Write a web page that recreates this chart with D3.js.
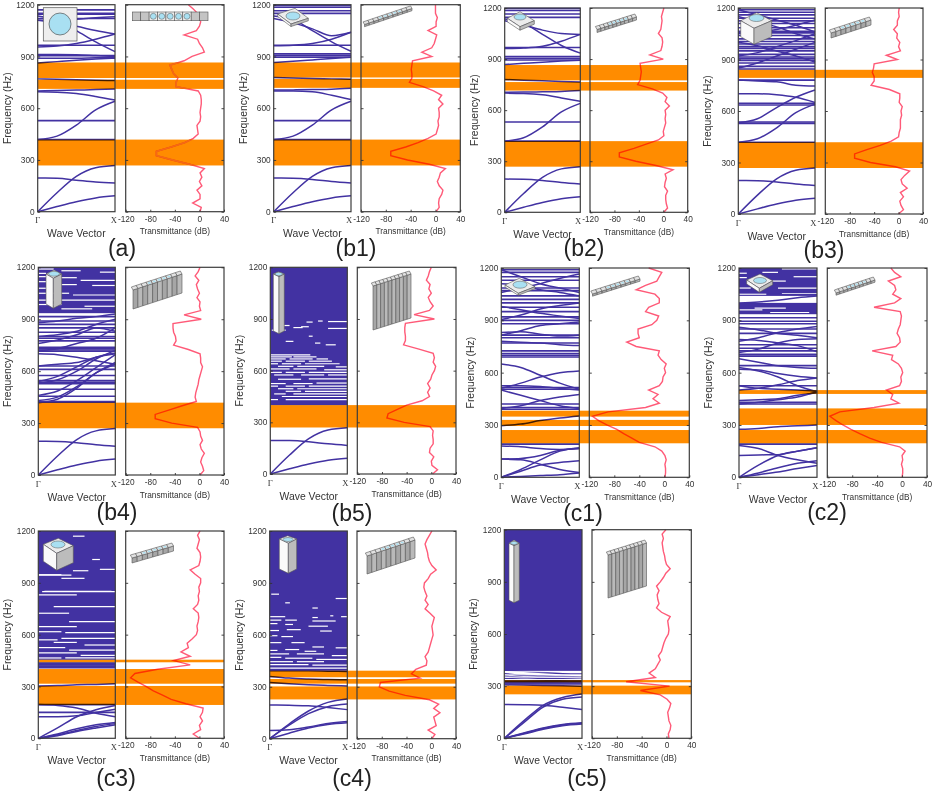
<!DOCTYPE html>
<html><head><meta charset="utf-8">
<script src="https://cdn.jsdelivr.net/npm/d3@7"></script>
<style>
html,body{margin:0;padding:0;background:#fff}
svg{display:block;font-family:"Liberation Sans",Arial,sans-serif;filter:blur(.3px)}
.frame{fill:none;stroke:#3c3c3c;stroke-width:1.2}
.tick text{fill:#333;font-size:8.3px;font-family:"Liberation Sans",Arial,sans-serif}
.tick line{stroke:#333;stroke-width:.9}
.domain{display:none}
</style></head><body>
<script>
// ---------- shared axes values ----------
const waveK = [0, .25, .5, .75, 1];
const freqGrid = [0,25,50,75,100,125,150,175,200,225,250,275,300,325,350,375,400,425,450,475,500,525,550,575,600,625,650,675,700,725,750,775,800,825,850,875,900,925,950,975,1000,1025,1050,1075,1100,1125,1150,1175,1200];
const freqTicks = [0,300,600,900,1200];
const transTicks = [-120,-80,-40,0,40];
const waveTickLabels = ["\u0393","X"];
const freqTitle = "Frequency (Hz)", waveTitle = "Wave Vector", transTitle = "Transmittance (dB)";

// ---------- (a) ----------
const a_bands = [[268,418],[712,765],[775,865]];
const a_curves = [[0,30,58,80,92],[0,110,205,255,268],[195,194,183,172,166],[418,438,502,590,640],[695,693,685,668,647],[700,702,705,708,712],[770,768,765,762,760],[862,870,878,885,890],[890,890,890,893,895],[912,912,910,905,900],[955,960,975,1000,1030],[1135,1110,1050,985,928],[1110,1095,1075,1050,1030],[1110,1110,1115,1125,1130]];
const a_flats = [418,528,905,965,1120,1145,1150,1170];
const a_trans = [1,3,-11,1,1,-4,4,0,4,1,8,-16,-44,-70,-70,-46,-24,-10,-2,-3,-4,1,2,1,2,3,3,2,-2,-38,-38,-35,-42,-45,-48,-25,-12,8,5,0,-3,-25,-5,0,2,1,-3,-10,-18];
// ---------- (b1) ----------
const b1_bands = [[268,418],[718,770],[778,865]];
const b1_curves = [[0,30,58,80,92],[0,110,205,255,268],[195,194,187,175,166],[418,438,502,590,640],[700,700,695,675,650],[705,706,708,710,715],[778,775,772,770,768],[865,872,880,888,895],[962,965,975,1000,1040],[1135,1115,1050,985,930],[1120,1095,1060,1020,1040]];
const b1_flats = [418,528,895,905,915,965,1150,1165,1185,1195];
const b1_trans = [1,6,5,6,10,12,6,3,6,8,16,-10,-45,-72,-72,-48,-28,-12,1,3,5,4,6,6,5,12,5,10,-3,-20,-42,-38,-38,-39,-38,-37,-6,-22,-6,-2,0,2,-12,1,1,3,0,0,0];
// ---------- (b2) ----------
const b2_bands = [[268,418],[715,765],[775,865]];
const b2_curves = [[0,30,58,80,92],[0,110,205,255,268],[195,194,187,175,166],[418,438,502,590,640],[700,698,690,672,652],[705,706,708,710,715],[780,776,772,768,765],[868,875,882,888,893],[962,965,975,1005,1045],[1135,1110,1045,980,935],[1125,1100,1070,1050,1045]];
const b2_flats = [418,530,895,905,915,968,1145,1165,1185,1197];
const b2_trans = [1,7,5,4,4,7,2,3,5,3,16,-12,-45,-72,-72,-48,-28,-8,1,0,2,4,3,4,3,10,3,6,-1,-18,-42,-38,-37,-36,-37,-38,0,-22,-4,-2,-1,-2,-8,-4,-3,-2,-3,-1,1];
// ---------- (b3) ----------
const b3_bands = [[268,418],[793,840]];
const b3_curves = [[0,30,58,80,92],[0,110,205,255,268],[195,194,187,175,166],[418,438,502,590,640],[532,555,620,680,722],[700,700,695,680,650],[780,775,770,750,745],[850,880,920,960,1000],[1000,980,950,920,885],[1150,1120,1090,1050,1020],[1050,1060,1075,1100,1130],[1190,1160,1130,1100,1060],[920,940,975,1010,1050]];
const b3_flats = [418,528,536,635,645,780,845,860,880,895,905,915,930,950,965,975,990,1005,1020,1040,1055,1065,1085,1110,1125,1140,1160,1175,1190];
const b3_trans = [0,8,4,2,8,3,14,6,4,10,18,-5,-46,-72,-72,-52,-30,-12,0,1,3,3,3,5,4,6,1,2,2,-15,-45,-40,-40,-43,-41,-40,-2,-20,3,0,2,-3,-2,-8,-2,-2,1,0,1];
// ---------- (b4) ----------
const b4_bands = [[270,418]];
const b4_curves = [[0,30,58,80,92],[0,110,205,255,268],[195,194,187,175,166],[418,438,502,590,640],[430,450,510,590,650],[460,485,545,620,695],[530,550,600,670,720],[540,570,625,680,705],[630,640,650,680,700],[700,695,680,660,640],[720,730,760,790,850],[760,780,810,850,830],[800,810,830,870,900],[880,890,905,915,930]];
const b4_flats = [420,425,455,495,528,535,545,575,610,630,715,722,730,738,775,790,800,825,850,870,890,915];
const b4_dense = [[935,1200]];
const b4_slivers = [[0,.1,1165],[0,.12,1146],[.8,1,1172],[0,.1,1117],[.55,1,1125],[.7,1,1095],[0,.1,1079],[0,.4,1050],[.45,1,1040],[0,1,1010],[0,.3,985],[.6,1,975],[.3,.7,960],[0,.2,1190],[.3,.5,1100],[.3,.55,1180],[.25,.5,1140]];
const b4_trans = [1,7,5,2,4,8,3,1,5,2,1,-3,-45,-72,-72,-50,-28,-5,-7,-6,-4,-2,-1,1,3,5,2,2,1,-18,-42,-38,-39,-42,-43,-43,3,-25,2,0,1,-4,0,-3,-5,-1,-7,-2,1];
// ---------- (b5) ----------
const b5_bands = [[270,400]];
const b5_curves = [[0,30,58,80,92],[0,110,205,255,268],[195,194,187,175,166]];
const b5_flats = [];
const b5_dense = [[400,1200]];
const b5_slivers = [[.47,.55,882],[.75,1,885],[.62,.68,888],[.12,.25,862],[.3,.42,850],[.75,1,845],[.02,.2,835],[.4,.5,855],[.5,.55,800],[.58,.65,760],[.72,.85,750],[.2,.3,770],[0,.52,692],[0,.28,680],[.3,.6,680],[0,.2,668],[.25,.55,668],[.6,.75,668],[0,.15,655],[.2,.45,655],[.5,.8,655],[0,.1,640],[.15,.4,640],[.45,.9,640],[.1,.3,625],[.35,.7,625],[.85,1,622],[0,.25,610],[.3,.6,610],[.7,1,605],[0,.15,590],[.2,.45,590],[.5,1,590],[.05,.3,575],[.4,.7,575],[.75,1,575],[.1,.4,550],[.5,1,552],[0,.2,525],[.3,.55,525],[.6,1,528],[0,.1,510],[.2,.45,510],[.5,1,510],[.1,.3,495],[.35,1,495],[.2,.4,480],[.45,1,480],[.05,.2,465],[.3,1,465],[.15,1,450],[0,.1,432],[.2,1,432]];
const b5_trans = [2,10,1,0,4,-3,-2,3,3,2,3,-2,-44,-72,-70,-55,-40,-15,-3,-6,-2,-6,-1,1,5,7,3,5,3,-20,-45,-42,-42,-43,-43,-42,5,-28,-3,3,-2,-5,0,-4,-2,-8,-5,-3,0];
// ---------- (c1) ----------
const c1_bands = [[195,271],[294,329],[348,382]];
const c1_curves = [[0,35,70,85,95],[0,45,100,150,170],[0,5,10,15,25],[105,100,75,45,27],[105,108,125,155,165],[180,175,165,160,165],[296,305,325,340,352],[500,470,440,410,395],[395,410,440,460,475],[525,525,520,510,500],[650,630,585,540,505],[510,540,575,600,610],[780,775,770,760,755],[815,840,870,880,890],[830,835,820,810,815],[980,960,940,925,910],[905,930,965,985,1000],[1190,1150,1110,1085,1060],[1060,1085,1110,1140,1165],[1110,1100,1075,1060,1040]];
const c1_flats = [190,390,400,420,505,515,690,700,710,725,770,800,815,880,900,920,950,975,1000,1020,1040,1070,1085,1130,1150,1175,1190];
const c1_trans = [1,2,2,1,3,1,-4,-15,-40,-52,-65,-76,-92,-105,-115,-90,-30,-8,-18,-10,-25,-8,-3,-2,2,0,3,-5,-10,-8,-45,-60,-40,-42,-42,-20,-12,-9,-30,-25,-8,-8,-15,-45,-30,-12,-8,-4,-25];
// ---------- (c2) ----------
const c2_bands = [[195,271],[300,395],[478,500]];
const c2_curves = [[0,25,55,80,95],[0,15,30,50,68],[182,165,125,100,80],[0,70,125,150,170],[125,128,130,150,170],[275,280,290,295,300],[420,430,445,460,490],[440,445,450,470,485],[525,510,505,500,495],[630,610,575,525,490],[500,510,530,555,570],[620,615,595,580,570],[680,660,640,630,625],[715,735,770,790,795],[790,785,770,755,720],[860,845,825,815,800],[780,800,830,850,865],[1000,1005,1015,1030,1040]];
const c2_flats = [190,420,430,525,640,695,705,725,740,760,825,850,880,895,915,1060];
const c2_dense = [[935,1000],[1040,1200]];
const c2_slivers = [[0,.1,1170],[.3,.5,1175],[.55,1,1195],[0,.1,1145],[.7,1,1150],[.3,.6,1125],[0,.15,1085],[.5,1,1085],[0,.35,1050],[.55,1,1055],[.2,.6,970],[0,.3,960],[.4,.9,945]];
const c2_trans = [0,1,1,-1,1,0,5,-4,-33,-52,-68,-82,-95,-106,-116,-100,-45,-5,-18,-15,-25,-4,-1,-2,1,-1,-6,-17,-15,-48,-10,-3,-4,-8,-6,-3,-2,-1,-3,-45,-12,-2,-15,-10,-12,-22,-2,-12,-18];
// ---------- (c3) ----------
const c3_bands = [[193,303],[316,401],[440,455]];
const c3_curves = [[0,25,55,78,92],[0,20,45,68,85],[0,15,40,60,78],[0,60,125,165,190],[125,125,130,150,168],[195,190,175,145,125],[303,305,310,312,316]];
const c3_flats = [195,150,408,418,425,435];
const c3_dense = [[455,1200]];
const c3_slivers = [[.05,1,849],[.08,.95,851],[0,.5,830],[.2,1,762],[0,.43,945],[0,.3,947],[.8,1,978],[.45,.65,970],[.3,.6,926],[.7,.8,1035],[.45,.6,1170],[.3,.45,1100],[0,.4,724],[.4,1,675],[0,.5,646],[0,.3,617],[.35,1,612],[.3,1,579],[0,.25,570],[.2,.5,555],[.6,1,540],[0,.35,525],[.4,1,510],[0,.5,495],[.55,1,480],[0,.3,465],[.35,1,465]];
const c3_trans = [0,-10,2,0,5,1,5,6,-22,-46,-60,-75,-87,-100,-112,-105,-68,-15,-42,-15,-30,-18,-20,-12,-5,-3,-4,-2,-1,-2,-10,-3,-1,-2,0,-1,2,2,-7,-15,-1,1,2,1,-4,-2,0,-3,1];
// ---------- (c4) ----------
const c4_bands = [[227,302],[318,345],[355,393]];
const c4_curves = [[0,32,62,82,92],[48,52,68,88,100],[0,85,160,210,230],[0,78,145,185,200],[195,193,190,180,168],[393,392,392,390,388],[360,350,345,342,340],[325,318,312,308,305]];
const c4_flats = [];
const c4_dense = [[393,1200]];
const c4_slivers = [[.02,.12,835],[.85,1,810],[.2,.26,785],[.55,.62,755],[0,.2,705],[.55,.62,700],[.78,.82,710],[.92,1,705],[0,.15,685],[.2,.35,685],[.55,.85,680],[.0,.1,665],[.2,.3,660],[.5,.75,650],[.0,.12,625],[.22,.4,630],[.65,.8,622],[0,.1,595],[.15,.3,590],[.0,.15,555],[.28,.45,555],[.55,.7,530],[.85,1,525],[.0,.1,510],[.2,.38,515],[.45,.6,505],[0,.25,490],[.35,.7,490],[.8,1,480],[0,.15,470],[.2,.55,465],[.6,1,458],[0,.3,445],[.35,.7,445],[0,.5,428],[.55,1,425],[0,1,408]];
const c4_trans = [1,6,-5,8,6,4,14,4,12,-3,-42,-68,-84,-82,-18,-32,-25,-8,-7,-10,-5,-3,-1,1,3,2,1,3,5,-2,-10,-5,-10,-7,-10,-12,-11,-5,-1,8,1,-3,-5,-6,-8,-10,-7,-3,1];
// ---------- (c5) ----------
const c5_bands = [[253,303],[322,335]];
const c5_curves = [[0,30,60,80,90],[0,28,56,76,86],[0,24,52,72,82],[0,100,190,235,255],[0,90,180,225,238],[195,193,190,178,166],[308,306,304,302,300],[320,320,322,324,325],[330,330,330,330,330],[345,340,335,330,328]];
const c5_flats = [312,318,326];
const c5_dense = [[388,1200]];
const c5_slivers = [];
const c5_extraWhite = [[0,1,383],[0,1,365],[0,1,352],[0,1,338]];
const c5_trans = [4,3,6,7,4,3,2,5,7,1,-10,-42,5,-65,-18,-28,-18,-14,-10,-13,-8,-6,-4,-1,3,4,3,2,6,-8,-16,-12,-14,-15,-12,-16,-10,-5,-1,6,0,-2,-3,-5,-6,-7,-5,-7,-1];
const c5_lowLines = [[392,385,378,372,370],[372,362,358,355,352],[358,350,345,342,340]];

// ---------- panel table ----------
const panels = [
 {name:"(a)",  box:[37.7,115,125.7,224,4.7,211.7], tx:122,ty:256, bands:a_bands,curves:a_curves,flats:a_flats,trans:a_trans,plainBand:true},
 {name:"(b1)", box:[273.7,351,361,460.3,4.7,211.7], tx:356,ty:256, bands:b1_bands,curves:b1_curves,flats:b1_flats,trans:b1_trans},
 {name:"(b2)", box:[504.7,580.3,590,687.7,8,212.3], tx:584,ty:256, bands:b2_bands,curves:b2_curves,flats:b2_flats,trans:b2_trans},
 {name:"(b3)", box:[738.3,815,825.3,923,8,214], tx:824,ty:258, bands:b3_bands,curves:b3_curves,flats:b3_flats,trans:b3_trans},
 {name:"(b4)", box:[38.3,115.3,125.7,224,267.3,475], tx:117,ty:520, bands:b4_bands,curves:b4_curves,flats:b4_flats,trans:b4_trans,dense:b4_dense,slivers:b4_slivers},
 {name:"(b5)", box:[270.3,347.3,357.3,456,267.3,474], tx:352,ty:521, bands:b5_bands,curves:b5_curves,flats:b5_flats,trans:b5_trans,dense:b5_dense,slivers:b5_slivers},
 {name:"(c1)", box:[501.3,579.3,589.3,689.3,268,477.3], tx:583,ty:521, bands:c1_bands,curves:c1_curves,flats:c1_flats,trans:c1_trans},
 {name:"(c2)", box:[739,817,827.3,927,268,477.3], tx:827,ty:520, bands:c2_bands,curves:c2_curves,flats:c2_flats,trans:c2_trans,dense:c2_dense,slivers:c2_slivers},
 {name:"(c3)", box:[38.3,115.3,125.7,224,531,738.3], tx:116,ty:786, bands:c3_bands,curves:c3_curves,flats:c3_flats,trans:c3_trans,dense:c3_dense,slivers:c3_slivers},
 {name:"(c4)", box:[269.7,347.3,357,456,531,738.7], tx:352,ty:786, bands:c4_bands,curves:c4_curves,flats:c4_flats,trans:c4_trans,dense:c4_dense,slivers:c4_slivers},
 {name:"(c5)", box:[504.3,582,592,691.3,529.7,738.3], tx:587,ty:786, bands:c5_bands,curves:c5_curves.concat(c5_lowLines),flats:c5_flats,trans:c5_trans,dense:c5_dense,slivers:c5_slivers,thickSlivers:c5_extraWhite}
];

const indigo = "#4232a2", orange = "#ff8c00", pink = "#ff5a78";
const svg = d3.select("body").append("svg").attr("width",934).attr("height",791).attr("viewBox","0 0 934 791");

panels.forEach((p,pi) => {
  const [l0,l1,r0,r1,top,bot] = p.box;
  const g = svg.append("g");
  const fy = d3.scaleLinear().domain([0,1200]).range([bot,top]);
  const kx = d3.scaleLinear().domain([0,1]).range([l0,l1]);
  const tx = d3.scaleLinear().domain([-120,40]).range([r0,r1]);
  const modeLine = d3.line().x((d,i)=>kx(waveK[i])).y(d=>fy(d)).curve(d3.curveMonotoneX);

  (p.dense||[]).forEach(d => g.append("rect").attr("x",l0).attr("width",l1-l0)
     .attr("y",fy(d[1])).attr("height",fy(d[0])-fy(d[1])).attr("fill",indigo));
  (p.slivers||[]).forEach(s => g.append("line").attr("x1",kx(s[0])).attr("x2",kx(s[1]))
     .attr("y1",fy(s[2])).attr("y2",fy(s[2])).attr("stroke","#fff").attr("stroke-width",1.2));
  p.flats.forEach(f => g.append("path").attr("d",modeLine(waveK.map(()=>f))).attr("fill","none").attr("stroke",indigo).attr("stroke-width",1.6));
  p.curves.forEach(c => g.append("path").attr("d",modeLine(c)).attr("fill","none").attr("stroke",indigo).attr("stroke-width",1.5));
  (p.thickSlivers||[]).forEach(s => g.append("line").attr("x1",kx(s[0])).attr("x2",kx(s[1]))
     .attr("y1",fy(s[2])).attr("y2",fy(s[2])).attr("stroke","#fff").attr("stroke-width",1));

  const transLine = d3.line().x(d=>tx(d)).y((d,i)=>fy(freqGrid[i])).curve(d3.curveLinear);
  g.append("path").attr("d",transLine(p.trans)).attr("fill","none").attr("stroke",pink).attr("stroke-width",1.4);

  p.bands.forEach(b => g.append("rect").attr("x",l0).attr("width",r1-l0)
     .attr("y",fy(b[1])).attr("height",fy(b[0])-fy(b[1])).attr("fill",orange)
     .style("mix-blend-mode","multiply"));

  if(p.plainBand){
    const cid = "bandclip"+pi;
    const cp = g.append("clipPath").attr("id",cid);
    p.bands.forEach(b => cp.append("rect").attr("x",r0).attr("width",r1-r0).attr("y",fy(b[1])).attr("height",fy(b[0])-fy(b[1])));
    g.append("path").attr("clip-path",`url(#${cid})`).attr("d",transLine(p.trans)).attr("fill","none").attr("stroke","#f46a14").attr("stroke-width",1.8);
  }

  g.append("rect").attr("class","frame").attr("x",l0).attr("y",top).attr("width",l1-l0).attr("height",bot-top);
  g.append("rect").attr("class","frame").attr("x",r0).attr("y",top).attr("width",r1-r0).attr("height",bot-top);

  // axes
  g.append("g").attr("transform",`translate(${l0},0)`).call(d3.axisLeft(fy).tickValues(freqTicks).tickFormat(d=>String(d)).tickSizeInner(-2.5).tickSizeOuter(0).tickPadding(3));
  g.append("g").attr("transform",`translate(${r0},0)`).call(d3.axisLeft(fy).tickValues(freqTicks).tickFormat("").tickSizeInner(-2.5).tickSizeOuter(0));
  g.append("g").attr("transform",`translate(${r1},0)`).call(d3.axisRight(fy).tickValues(freqTicks).tickFormat("").tickSizeInner(-2.5).tickSizeOuter(0));
  g.append("g").attr("transform",`translate(0,${bot})`).call(d3.axisBottom(tx).tickValues(transTicks).tickFormat(d=>String(d)).tickSizeInner(-2).tickSizeOuter(0).tickPadding(4));
  // gamma / X
  g.append("text").attr("x",l0).attr("y",bot+11.5).attr("text-anchor","middle").attr("font-family","'Liberation Serif',serif").attr("font-size",8.6).attr("fill","#333").text(waveTickLabels[0]);
  g.append("text").attr("x",r0-8.8).attr("y",bot+11.5).attr("text-anchor","end").attr("font-family","'Liberation Serif',serif").attr("font-size",8.6).attr("fill","#333").text(waveTickLabels[1]);

  g.append("text").attr("transform",`translate(${l0-27},${(top+bot)/2}) rotate(-90)`).attr("text-anchor","middle").attr("font-size",10.4).attr("fill","#333").text(freqTitle);
  g.append("text").attr("x",(l0+l1)/2).attr("y",bot+25.5).attr("text-anchor","middle").attr("font-size",10.4).attr("fill","#333").text(waveTitle);
  g.append("text").attr("x",(r0+r1)/2).attr("y",bot+22.5).attr("text-anchor","middle").attr("font-size",8.3).attr("fill","#333").text(transTitle);
  g.append("text").attr("x",p.tx).attr("y",p.ty).attr("text-anchor","middle").attr("font-size",23).attr("fill","#222").text(p.name);
});

// ---------- inset schematics ----------
const cyan = "#a9e0f2", edge = "#555";
const ins = svg.append("g");
function poly(pts,fill){ ins.append("polygon").attr("points",pts.map(q=>q.join(",")).join(" ")).attr("fill",fill).attr("stroke",edge).attr("stroke-width",.6); }
function cell(L,T,R,B,d,cx,cy,rx,ry){
  poly([L,T,R,B],"#ececec");
  poly([L,B,[B[0],B[1]+d],[L[0],L[1]+d]],"#fafafa");
  poly([B,R,[R[0],R[1]+d],[B[0],B[1]+d]],"#bcbcbc");
  ins.append("ellipse").attr("cx",cx).attr("cy",cy).attr("rx",rx).attr("ry",ry).attr("fill",cyan).attr("stroke",edge).attr("stroke-width",.5);
}
function strip(p0,p1,d,h,n,holes){
  const sx=(p1[0]-p0[0])/n, sy=(p1[1]-p0[1])/n;
  for(let i=0;i<n;i++){
    const a=[p0[0]+i*sx,p0[1]+i*sy], b=[a[0]+sx,a[1]+sy];
    const shade = i%2 ? "#b9b9b9":"#a6a6a6";
    poly([a,b,[b[0],b[1]+d],[a[0],a[1]+d]],shade);
    const up=[-h*.55,-h];
    poly([a,b,[b[0]+up[0],b[1]+up[1]],[a[0]+up[0],a[1]+up[1]]],"#e2e2e2");
    if(holes && i>=(n-5)/2 && i<(n+5)/2)
      ins.append("ellipse").attr("cx",(a[0]+b[0])/2+up[0]/2).attr("cy",(a[1]+b[1])/2+up[1]/2).attr("rx",Math.max(sx*.3,.6)).attr("ry",Math.max(h*.28,.6)).attr("fill",cyan);
  }
}
// (a)
ins.append("rect").attr("x",43.3).attr("y",7.7).attr("width",33.7).attr("height",33.3).attr("fill","#eee").attr("stroke",edge).attr("stroke-width",.7);
ins.append("circle").attr("cx",60).attr("cy",24).attr("r",11).attr("fill",cyan).attr("stroke",edge).attr("stroke-width",.7);
{const n=9,x0=132.3,w=(208-132.3)/n;
 for(let i=0;i<n;i++){ const hole=i>=2&&i<7;
  ins.append("rect").attr("x",x0+i*w).attr("y",12).attr("width",w).attr("height",8.7).attr("fill",hole?"#eee":"#c4c4c4").attr("stroke",edge).attr("stroke-width",.6);
  if(hole) ins.append("circle").attr("cx",x0+(i+.5)*w).attr("cy",16.3).attr("r",3).attr("fill",cyan).attr("stroke",edge).attr("stroke-width",.5);
 }}
cell([277.7,14],[295,8.3],[308.3,18.3],[291,24],2.5,293,16,7,4);
strip([364.5,24.5],[412,8.5],2.2,2.6,10,true);
cell([507.3,18.3],[520,11.7],[534.3,20.7],[520,26.7],3.5,520,17,6,3);
strip([597,29.5],[636.5,17],3,3,10,true);
cell([740.7,20.7],[756.7,12.7],[771.7,20.7],[754,28.3],16,756.5,18,7.5,3.5);
strip([831,33],[871,20],5,3,8,true);
cell([46,274],[54,270],[61.7,274],[53.3,278.3],30,54,273.8,5.5,2.4);
strip([133,290],[182,274],19,3,10,true);
cell([273.3,274],[278.3,271.7],[284.3,274],[279,276.7],57,278.8,274,3.6,1.7);
strip([373,286],[411,274],44,3,10,false);
cell([505,285],[519.3,278.3],[535,286.7],[518.3,293.3],2,520,284.7,7,3.5);
strip([592.5,294],[640,279],2.2,3,10,true);
cell([746.7,280],[760,274],[772.7,280.7],[759.3,288.3],4,760,280.5,6.5,3);
strip([836,293],[875,280],2.2,3,10,true);
cell([43.3,544.3],[58.3,538.3],[73.3,545.7],[56.7,553.3],17,58,544.5,7,3.5);
strip([132,558],[173.5,546],5,3,8,true);
cell([279.3,539],[287.7,535.7],[296.7,539],[288.3,543.3],30,288,539.5,5,2);
strip([367,556],[415,540],18,3,10,true);
cell([509,543.3],[514,540],[519.3,543.3],[514,545.7],57,514,543,3.6,1.6);
strip([608,555],[646.5,543],43,3,10,false);
</script></body></html>
